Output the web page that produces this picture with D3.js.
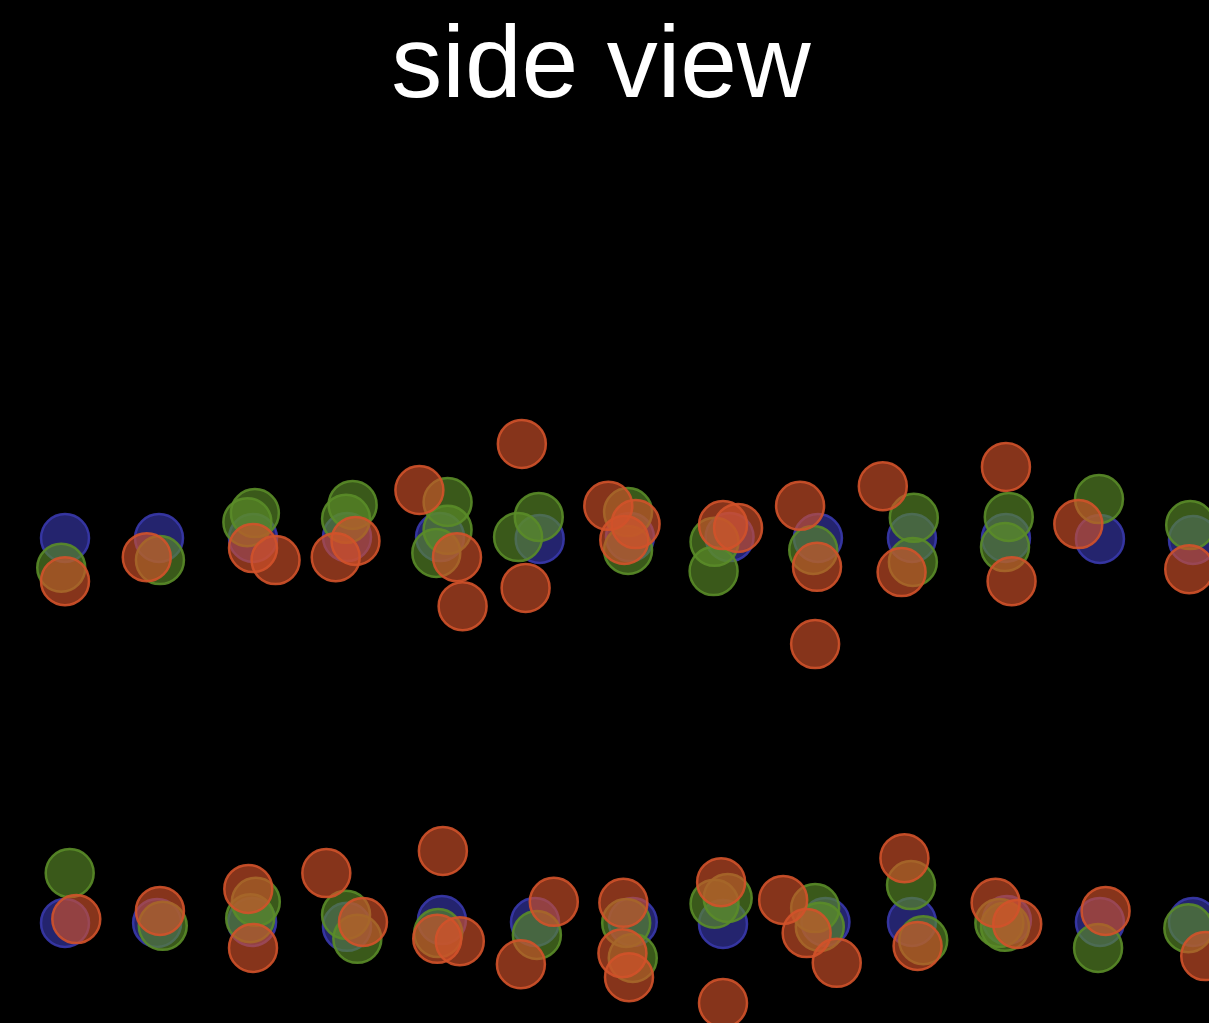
<!DOCTYPE html>
<html>
<head>
<meta charset="utf-8">
<script src="https://cdn.jsdelivr.net/npm/d3@7"></script>
<style>
  html, body { margin: 0; padding: 0; background: #000; overflow: hidden; }
  svg { display: block; }
</style>
</head>
<body>
<script>
// Side projection of three point groups: x = position along the track,
// y = height. Two layers of points (lower layer around 0, upper around 8).
const groupA = [ // blue
  [0.00, 8.00], [1.00, 8.00], [2.00, 8.00], [3.00, 8.02], [3.99, 8.02],
  [5.05, 7.98], [6.01, 8.02], [7.07, 8.02], [8.01, 8.00], [9.01, 8.00],
  [10.01, 8.00], [11.01, 7.98], [12.00, 7.96],
  [0.00, -0.02], [0.98, -0.02], [1.99, 0.00], [3.00, -0.10], [4.01, 0.04],
  [5.00, 0.00], [6.04, 0.00], [7.00, -0.04], [8.09, 0.00], [9.01, 0.00],
  [10.02, 0.04], [11.01, 0.00], [12.00, 0.00]
];

const groupB = [ // green
  [-0.04, 7.38], [1.01, 7.54], [2.02, 8.52], [1.94, 8.33], [3.06, 8.69],
  [2.99, 8.40], [4.07, 8.75], [4.07, 8.17], [3.95, 7.69], [5.04, 8.44],
  [4.82, 8.02], [5.99, 8.54], [5.99, 7.75], [6.91, 7.92], [6.90, 7.31],
  [7.96, 7.75], [9.03, 8.42], [9.02, 7.50], [10.04, 8.44], [10.00, 7.81],
  [11.00, 8.81], [11.97, 8.27],
  [0.05, 1.02], [1.04, -0.08], [2.03, 0.42], [1.97, 0.08], [2.99, 0.15],
  [3.11, -0.35], [3.97, -0.23], [5.02, -0.27], [5.97, -0.02], [6.04, -0.75],
  [7.05, 0.50], [6.91, 0.38], [7.98, 0.29], [8.03, -0.10], [9.00, 0.77],
  [9.13, -0.38], [9.94, -0.02], [10.00, -0.10], [10.99, -0.54], [11.95, -0.13]
];

const groupC = [ // orange
  [0.00, 7.10], [0.87, 7.60], [2.00, 7.79], [2.24, 7.54], [3.09, 7.94],
  [2.88, 7.60], [3.77, 9.00], [4.17, 7.60], [4.23, 6.58], [4.86, 9.96],
  [4.90, 6.96], [5.78, 8.67], [6.07, 8.29], [5.95, 7.96], [7.00, 8.27],
  [7.16, 8.21], [7.82, 8.67], [8.00, 7.40], [7.98, 5.79], [8.70, 9.08],
  [8.90, 7.29], [10.01, 9.48], [10.07, 7.10], [10.78, 8.29], [11.96, 7.35],
  [0.12, 0.06], [1.01, 0.23], [1.95, 0.69], [2.00, -0.54], [2.78, 1.02],
  [3.17, 0.00], [4.02, 1.48], [3.96, -0.35], [4.20, -0.40], [5.20, 0.42],
  [4.85, -0.88], [5.94, 0.40], [5.93, -0.65], [6.00, -1.15], [6.98, 0.83],
  [7.00, -1.69], [7.64, 0.46], [7.89, -0.23], [8.21, -0.85], [8.93, 1.33],
  [9.07, -0.50], [9.90, 0.40], [10.13, -0.04], [11.07, 0.23], [12.13, -0.71]
];

const title = "side view";

const groups = [
  { name: "A", points: groupA, color: "#3838ac" },
  { name: "B", points: groupB, color: "#5a8c28" },
  { name: "C", points: groupC, color: "#d2522a" }
];

const width = 1209, height = 1023;

const svg = d3.select("body").append("svg")
  .attr("width", width)
  .attr("height", height)
  .style("background", "#000");

const x = d3.scaleLinear().domain([0, 12]).range([65, 1193]);
const y = d3.scaleLinear().domain([0, 8]).range([922, 538]);

svg.append("text")
  .attr("x", 601)
  .attr("y", 97)
  .attr("text-anchor", "middle")
  .attr("fill", "#fff")
  .style("font-family", "'Liberation Sans', Arial, Helvetica, sans-serif")
  .style("font-size", "102px")
  .text(title);

const layer = svg.append("g");

groups.forEach(g => {
  layer.append("g")
    .attr("class", "group-" + g.name)
    .selectAll("circle")
    .data(g.points)
    .join("circle")
    .attr("cx", d => x(d[0]))
    .attr("cy", d => y(d[1]))
    .attr("r", 24)
    .attr("fill", g.color)
    .attr("fill-opacity", 0.64)
    .attr("stroke", g.color)
    .attr("stroke-opacity", 0.9)
    .attr("stroke-width", 2.5);
});
</script>
</body>
</html>
